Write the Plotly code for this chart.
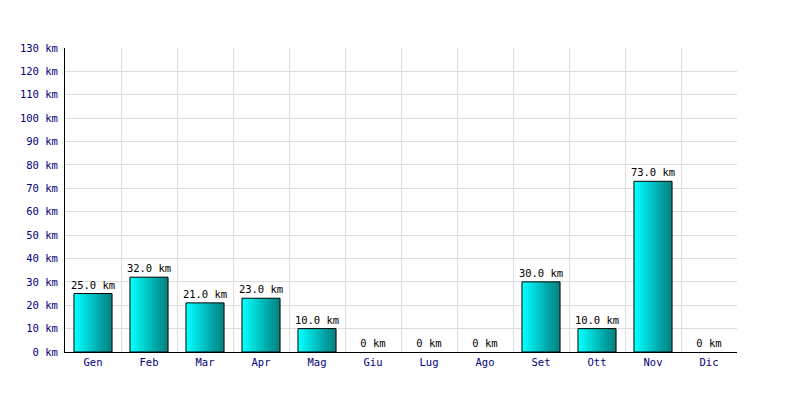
import plotly.graph_objects as go

months = ["Gen", "Feb", "Mar", "Apr", "Mag", "Giu", "Lug", "Ago", "Set", "Ott", "Nov", "Dic"]
km = [25.0, 32.0, 21.0, 23.0, 10.0, 0, 0, 0, 30.0, 10.0, 73.0, 0]
y_ticks = list(range(0, 131, 10))

labels = [f"{v:.1f} km" if v > 0 else "0 km" for v in km]
xs = list(range(len(months)))

FONT = "DejaVu Sans Mono"
bar_w = 0.68
n_slices = 19
c0 = (0, 255, 255)
c1 = (0, 128, 128)

fig = go.Figure()
for i in range(n_slices):
    t = i / (n_slices - 1)
    col = "rgb({},{},{})".format(*[round(a + (b - a) * t) for a, b in zip(c0, c1)])
    fig.add_trace(go.Bar(
        x=xs, y=km, width=bar_w / n_slices, offset=-bar_w / 2 + i * bar_w / n_slices,
        marker=dict(color=col, line=dict(width=0)), showlegend=False, hoverinfo="skip"))

fig.add_trace(go.Bar(
    x=xs, y=km, width=bar_w, offset=-bar_w / 2,
    marker=dict(color="rgba(0,0,0,0)",
                line=dict(color="black", width=[1 if v > 0 else 0 for v in km])),
    text=labels, textposition="outside", cliponaxis=False, constraintext="none",
    textfont=dict(family=FONT, size=10.5, color="black"),
    showlegend=False))

fig.update_layout(
    barmode="overlay",
    width=800, height=400,
    margin=dict(l=57, r=71, t=40, b=56),
    paper_bgcolor="white", plot_bgcolor="white",
    font=dict(family=FONT, size=10.5, color="#000080"),
    xaxis=dict(
        range=[-0.5, 11.5], tickmode="array", tickvals=xs, ticktext=months,
        showgrid=False, zeroline=False, showline=True, linecolor="black", linewidth=1,
        ticks="", tickfont=dict(family=FONT, size=10.5, color="#000080"),
        minor=dict(tickmode="array", tickvals=[x + 0.5 for x in range(-1, 12)],
                   showgrid=True, gridcolor="#dddddd", gridwidth=1, ticks=""),
    ),
    yaxis=dict(
        range=[0, 130], tickmode="array", tickvals=y_ticks,
        ticktext=[f"{v} km" for v in y_ticks],
        showgrid=True, gridcolor="#dddddd", gridwidth=1, zeroline=False,
        showline=True, linecolor="black", linewidth=1, ticks="",
        ticklabelstandoff=4,
        tickfont=dict(family=FONT, size=10.5, color="#000080"),
    ),
)

fig.write_html("out.html")
